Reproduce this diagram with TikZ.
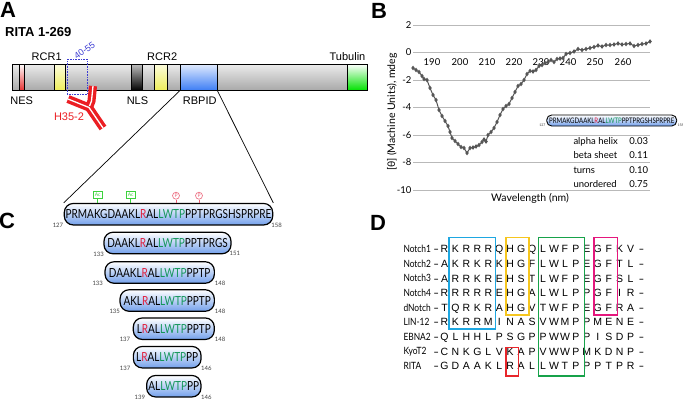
\documentclass[tikz,border=0pt]{standalone}
\usepackage{fontspec}
\setmainfont{Liberation Sans}
\newfontfamily\lato{Lato}
\newfontfamily\pep[FakeStretch=0.8]{Lato}
\newfontfamily\narrow[FakeStretch=0.84]{Lato}
\usetikzlibrary{plotmarks,calc}
\definecolor{rbpblue}{RGB}{60,125,245}
\definecolor{segred}{RGB}{230,50,50}
\definecolor{segyel}{RGB}{238,238,90}
\definecolor{tubgreen}{RGB}{0,225,0}
\definecolor{pepgreen}{RGB}{20,150,90}
\definecolor{pepred}{RGB}{225,30,60}
\definecolor{capblue}{RGB}{115,160,235}
\definecolor{abred}{RGB}{235,30,35}
\definecolor{lblue}{RGB}{60,60,210}
\definecolor{curvecol}{RGB}{85,85,85}
\definecolor{gridcol}{RGB}{185,185,185}
\definecolor{boxblue}{RGB}{30,167,225}
\definecolor{boxyel}{RGB}{246,198,31}
\definecolor{boxgrn}{RGB}{23,162,74}
\definecolor{boxmag}{RGB}{229,23,125}
\definecolor{boxred}{RGB}{232,38,43}
\definecolor{acgreen}{RGB}{60,210,60}
\newcommand\redR{\textcolor{pepred}{R}}
\newcommand\grn[1]{\textcolor{pepgreen}{#1}}
\newcommand\dsh{\scalebox{1.5}[1]{-}}
\newcommand\drow[3]{%
  \pgfmathsetmacro\ry{249+14.6*#1}
  \node[dname, anchor=west] (n#1) at (403.3,\ry) {#2};
  \node[dres] (da#1) at (436.3,\ry) {\dsh};
  \foreach \c [count=\j from 0] in {#3} {\node[dres] (r#1-\j) at (444.5+10.95*\j,\ry) {\c};}
  \node[dres] (db#1) at (641.5,\ry) {\dsh};
}
\begin{document}
\begin{tikzpicture}[x=1pt,y=-1pt,
  panel/.style={font=\fontsize{22}{22}\selectfont\bfseries, inner sep=0pt},
  lab/.style={font=\fontsize{11}{11}\selectfont, inner sep=0pt},
  capsule/.style={draw, line width=1.2pt, rounded corners=9pt, top color=white, bottom color=capblue, inner sep=0pt, minimum height=21.5pt, font=\pep\fontsize{12.5}{13}\selectfont, text height=9pt, text depth=0pt},
  minicap/.style={draw, line width=0.9pt, rounded corners=5pt, top color=white, bottom color=capblue, inner sep=0pt, minimum height=11pt, font=\pep\fontsize{7.6}{8}\selectfont, text height=5.5pt, text depth=0pt},
  num/.style={font=\lato\fontsize{6}{6}\selectfont, text=black!75, inner sep=0.3pt},
  tinynum/.style={font=\lato\fontsize{3.5}{4}\selectfont, text=black!75, inner sep=0.2pt},
  acbox/.style={draw=acgreen, text=acgreen, font=\lato\fontsize{5}{5}\selectfont, inner sep=0pt, minimum width=9pt, minimum height=7pt, line width=0.6pt},
  pcirc/.style={circle, draw=pepred!70, text=pepred!70, font=\lato\fontsize{5}{5}\selectfont, inner sep=0pt, minimum size=7pt, line width=0.6pt},
  ab/.style={draw=abred, double=white, double distance=1.3pt, line width=3.4pt},
  tick/.style={font=\lato\fontsize{9.5}{10}\selectfont, inner sep=0pt},
  tbl/.style={font=\lato\fontsize{9.5}{10}\selectfont, inner sep=0pt, text height=7pt, text depth=2pt},
  dname/.style={font=\narrow\fontsize{10}{11}\selectfont, inner sep=0pt, text height=7.3pt, text depth=0pt},
  dres/.style={font=\fontsize{10.5}{11}\selectfont, inner sep=0pt, text height=7.6pt, text depth=0pt},
  dbox/.style={draw=#1, line width=1.6pt}
]
\useasboundingbox (0,0) rectangle (683,400);

% ---------- panel letters
\node[panel] (lA) at (8,10) {A};
\node[panel] (lB) at (379,11) {B};
\node[panel] (lC) at (7,221) {C};
\node[panel] (lD) at (378,222.5) {D};

% ---------- panel A
\node[anchor=west, font=\bfseries\fontsize{13}{13}\selectfont, inner sep=0pt] (rita) at (5,32) {RITA 1-269};
\shade[top color=gray!15, bottom color=gray!68] (12.7,64) rectangle (367,90.5);
\shade[top color=white, bottom color=segred] (19,64) rectangle (24,90.5);
\shade[top color=white!80!segyel, bottom color=segyel] (54.3,64) rectangle (65.3,90.5);
\shade[top color=gray!50, bottom color=black] (131.5,64) rectangle (142.7,90.5);
\shade[top color=white!80!segyel, bottom color=segyel] (154.5,64) rectangle (167.3,90.5);
\shade[top color=white!85!rbpblue, bottom color=rbpblue] (180,64) rectangle (217.3,90.5);
\shade[top color=white, bottom color=tubgreen] (347,64) rectangle (367,90.5);
\draw[line width=0.7pt] (12.7,64) rectangle (367,90.5);
\foreach \xx in {19,24,54.3,65.3,131.5,142.7,154.5,167.3,180,217.3,347}
  \draw[line width=0.7pt] (\xx,64) -- (\xx,90.5);
\coordinate (rbL) at (180,90.5);
\coordinate (rbR) at (217.3,90.5);

\node[lab] (rcr1) at (46.7,56.7) {RCR1};
\node[lab] (rcr2) at (162.2,56.7) {RCR2};
\node[lab] (tub) at (347.5,57) {Tubulin};
\node[lab] (nes) at (21.7,100.8) {NES};
\node[lab] (nls) at (137.5,100.8) {NLS};
\node[lab] (rbpid) at (199.7,100.8) {RBPID};

\draw[lblue, densely dotted, line width=0.6pt] (67,59.3) rectangle (87.3,94.3);
\node[rotate=35, text=lblue, font=\fontsize{9}{9}\selectfont, inner sep=0pt] (ep) at (84.5,50.5) {40-55};

\draw[ab] (68,99) -- (89,107.5) -- (103,128);
\draw[ab] (93,86) -- (91.5,101) -- (89.5,106);
\node[lab, text=abred] (h35) at (69,117) {H35-2};

% ---------- panel C
\node[capsule, minimum width=208.4pt] (p1) at (168.5,214.2) {PRMAKGDAAKL\redR AL\grn{LWTP}PPTPRGSHSPRPRE};
\node[capsule, minimum width=127pt] (p2) at (167.5,243) {DAAKL\redR AL\grn{LWTP}PPTPRGS};
\node[capsule, minimum width=109.3pt] (p3) at (159.7,272.5) {DAAKL\redR AL\grn{LWTP}PPTP};
\node[capsule, minimum width=94.3pt] (p4) at (167.2,300.5) {AKL\redR AL\grn{LWTP}PPTP};
\node[capsule, minimum width=81pt] (p5) at (173.8,328.7) {L\redR AL\grn{LWTP}PPTP};
\node[capsule, minimum width=67.7pt] (p6) at (167.2,357.2) {L\redR AL\grn{LWTP}PP};
\node[capsule, minimum width=54.3pt] (p7) at (173.8,386.2) {AL\grn{LWTP}PP};

\node[num, anchor=east] (n1a) at ($(p1.south west)+(0,-0.5)$) {127};
\node[num, anchor=west] (n1b) at ($(p1.south east)+(-2.5,-0.5)$) {158};
\node[num, anchor=east] (n2a) at ($(p2.south west)+(1,-0.5)$) {133};
\node[num, anchor=west] (n2b) at ($(p2.south east)+(-2.5,-0.5)$) {151};
\node[num, anchor=east] (n3a) at ($(p3.south west)+(-1,-0.5)$) {133};
\node[num, anchor=west] (n3b) at ($(p3.south east)+(-0.5,-0.5)$) {148};
\node[num, anchor=east] (n4a) at ($(p4.south west)+(1,-0.5)$) {135};
\node[num, anchor=west] (n4b) at ($(p4.south east)+(-0.5,-0.5)$) {148};
\node[num, anchor=east] (n5a) at ($(p5.south west)+(-2,-0.5)$) {137};
\node[num, anchor=west] (n5b) at ($(p5.south east)+(-0.5,-0.5)$) {148};
\node[num, anchor=east] (n6a) at ($(p6.south west)+(-2,-0.5)$) {137};
\node[num, anchor=west] (n6b) at ($(p6.south east)+(-1,-0.5)$) {146};
\node[num, anchor=east] (n7a) at ($(p7.south west)+(-0.5,0)$) {139};
\node[num, anchor=west] (n7b) at ($(p7.south east)+(-1,0)$) {146};

\draw[line width=0.7pt] (rbL) -- (p1.north west);
\draw[line width=0.7pt] (rbR) -- (p1.north east);

\node[acbox] (ac1) at (97.7,194.6) {Ac};
\node[acbox] (ac2) at (130.7,194.6) {Ac};
\node[pcirc] (ph1) at (176,195.7) {P};
\node[pcirc] (ph2) at (199,195.7) {P};
\draw[acgreen, line width=0.6pt] (ac1.south) -- (ac1.south |- p1.north);
\draw[acgreen, line width=0.6pt] (ac2.south) -- (ac2.south |- p1.north);
\draw[pepred!70, line width=0.6pt] (ph1.south) -- (ph1.south |- p1.north);
\draw[pepred!70, line width=0.6pt] (ph2.south) -- (ph2.south |- p1.north);

% ---------- panel B
\foreach \v/\yy in {2/25,0/52.5,-2/80,-4/107.5,-6/135,-8/162.5,-10/190} {
  \draw[gridcol, line width=0.6pt] (413,\yy) -- (650,\yy);
  \node[tick, anchor=east] at (411.5,\yy) {\v};
}
\foreach \w/\xx in {190/432,200/460,210/487,220/514,230/541,240/568,250/595,260/623}
  \node[tick] at (\xx,62) {\w};
\node[rotate=90, font=\lato\fontsize{10.5}{11}\selectfont, inner sep=0pt] (ylab) at (392,112) {[θ] (Machine Units), mdeg};
\node[font=\lato\fontsize{10.5}{11}\selectfont, inner sep=0pt] (xlab) at (530,198) {Wavelength (nm)};

\draw[curvecol, line width=1pt] plot[mark=diamond*, mark size=1.5pt, mark options={curvecol}] coordinates {
(413,68) (416,70) (419,72) (422,76) (424,79) (427,80) (430,88) (433,95) (436,100) (439,110)
(442,116) (445,121) (448,126) (450,132) (452,138) (455,141) (458,144) (461,147) (464,148) (467,153)
(470,148) (473,147.5) (476,146.5) (479,145) (482,142) (484,139.5) (486,141.5) (488,135) (491,132) (494,128)
(497,122) (500,115) (503,109) (506,106) (509,104) (512,98) (515,92) (518,86) (521,84) (524,80)
(527,74) (530,71) (533,71.5) (536,70) (539,66) (542,65) (545,63) (548,62) (551,60) (554,62)
(557,59) (560,58.5) (563,58) (566,54) (570,53) (574,51.5) (578,49) (582,50) (586,49) (590,48)
(594,47) (598,45.5) (602,46.5) (606,45) (610,45) (614,44.5) (618,43.5) (622,44.5) (626,44) (630,43.5)
(634,46) (638,45) (642,44) (646,43.5) (650,41.5)};

\node[minicap, minimum width=130pt] (pin) at (611.7,120.5) {PRMAKGDAAKL\redR AL\grn{LWTP}PPTPRGSHSPRPRE};
\node[tinynum, anchor=east] (pina) at ($(pin.south west)+(-0.5,-1)$) {127};
\node[tinynum, anchor=west] (pinb) at ($(pin.south east)+(0,-1)$) {158};

\node[tbl, anchor=west] (t1) at (573.3,141.7) {alpha helix};
\node[tbl, anchor=west] (t2) at (573.3,156) {beta sheet};
\node[tbl, anchor=west] (t3) at (573.3,170.5) {turns};
\node[tbl, anchor=west] (t4) at (573.3,184.7) {unordered};
\node[tbl, anchor=east] (v1) at (648.3,141.7) {0.03};
\node[tbl, anchor=east] (v2) at (648.3,156) {0.11};
\node[tbl, anchor=east] (v3) at (648.3,170.5) {0.10};
\node[tbl, anchor=east] (v4) at (648.3,184.7) {0.75};

% ---------- panel D
\drow{0}{Notch1}{R,K,R,R,R,Q,H,G,Q,L,W,F,P,E,G,F,K,V}
\drow{1}{Notch2}{A,K,R,K,R,K,H,G,F,L,W,L,P,E,G,F,T,L}
\drow{2}{Notch3}{A,R,R,K,R,E,H,S,T,L,W,F,P,E,G,F,S,L}
\drow{3}{Notch4}{R,R,R,R,R,E,H,G,A,L,W,L,P,P,G,F,I,R}
\drow{4}{dNotch}{T,Q,R,K,R,A,H,G,V,T,W,F,P,E,G,F,R,A}
\drow{5}{LIN-12}{R,K,R,R,M,I,N,A,S,V,W,M,P,P,M,E,N,E}
\drow{6}{EBNA2}{Q,L,H,H,L,P,S,G,P,P,W,W,P,P,I,S,D,P}
\drow{7}{KyoT2}{C,N,K,G,L,V,K,A,P,V,W,W,P,M,K,D,N,P}
\drow{8}{RITA}{G,D,A,A,K,L,R,A,L,L,W,T,P,P,P,T,P,R}

\draw[dbox=boxblue] (449,237.3) rectangle (495.5,329);
\draw[dbox=boxyel] (505.7,237.3) rectangle (529,315);
\draw[dbox=boxgrn] (538.3,237.3) rectangle (584.5,376);
\draw[dbox=boxmag] (594,237.3) rectangle (617.3,315);
\draw[dbox=boxred] (505.7,347.3) rectangle (518.3,376);
\end{tikzpicture}
\end{document}
